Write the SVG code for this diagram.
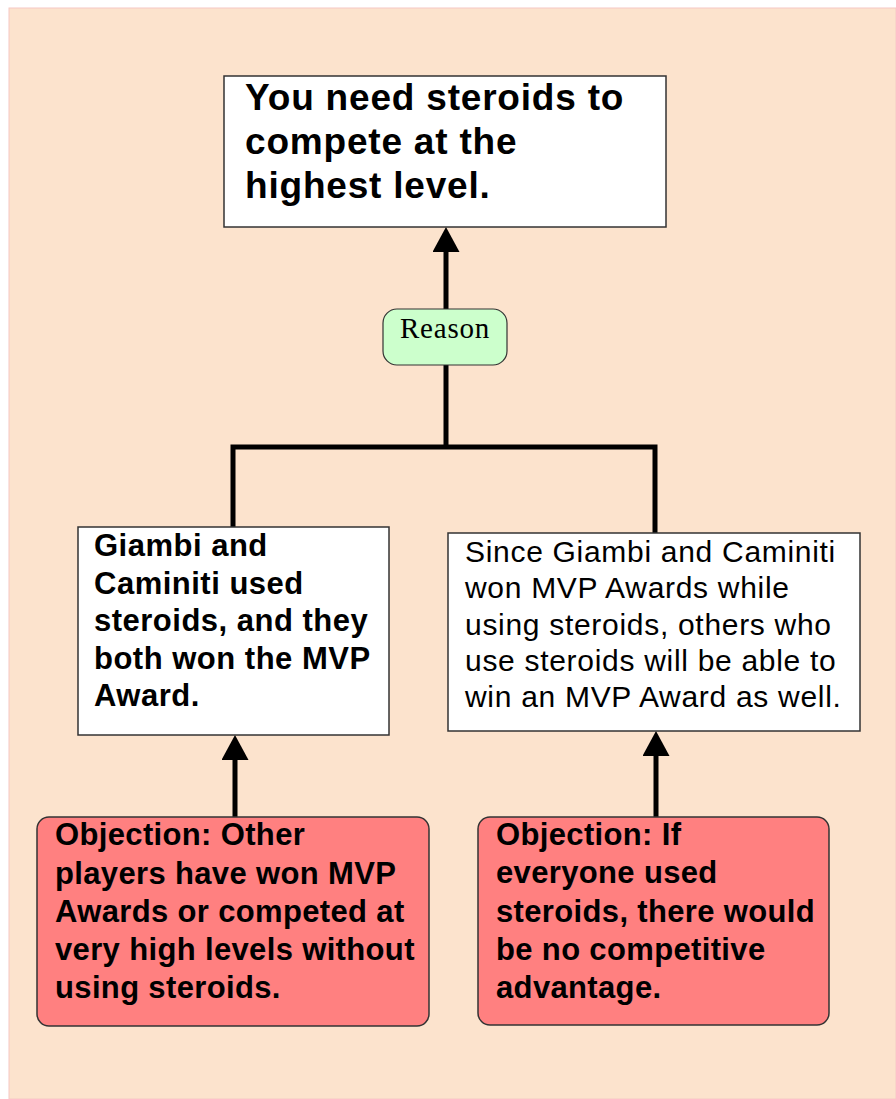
<svg xmlns="http://www.w3.org/2000/svg" width="896" height="1099" viewBox="0 0 896 1099">
  <defs>
    <style>
      .box { fill: #ffffff; stroke: #333333; stroke-width: 1.5; }
      .obj { fill: #ff8080; stroke: #333333; stroke-width: 1.5; }
      .rsn { fill: #ccffcc; stroke: #333333; stroke-width: 1.2; }
      .wire { fill: none; stroke: #000000; stroke-width: 5; }
      .bold { font-family: "Liberation Sans", Arial, sans-serif; font-weight: bold; fill: #000000; }
      .plain { font-family: "Liberation Sans", Arial, sans-serif; fill: #000000; }
      .serif { font-family: "Liberation Serif", "Times New Roman", serif; fill: #000000; }
    </style>
    <marker id="arrow" viewBox="0 0 25 27" markerUnits="userSpaceOnUse" markerWidth="25" markerHeight="27" refX="15" refY="13.5" orient="auto">
      <path d="M0,0 L25,13.5 L0,27 Z" fill="#000000"/>
    </marker>
  </defs>

  <!-- page background -->
  <rect x="0" y="0" width="896" height="1099" fill="#ffffff"/>
  <rect x="9" y="8" width="887" height="1091" fill="#fce3cd" stroke="#f6c8c4" stroke-width="1"/>

  <!-- connectors -->
  <g id="connectors">
    <line class="wire" x1="446" y1="447" x2="446" y2="237" marker-end="url(#arrow)"/>
    <path class="wire" d="M233,527 V447 H655 V533"/>
    <line class="wire" x1="235" y1="817" x2="235" y2="745" marker-end="url(#arrow)"/>
    <line class="wire" x1="656" y1="817" x2="656" y2="741" marker-end="url(#arrow)"/>
  </g>

  <!-- main claim -->
  <g id="claim">
    <rect class="box" x="224" y="76" width="442" height="151"/>
    <text class="bold" font-size="37" letter-spacing="0.8">
      <tspan x="245" y="110">You need steroids to</tspan>
      <tspan x="245" y="154">compete at the</tspan>
      <tspan x="245" y="198">highest level.</tspan>
    </text>
  </g>

  <!-- reason label -->
  <g id="reason">
    <rect class="rsn" x="383" y="309" width="124" height="56" rx="14" ry="14"/>
    <text class="serif" font-size="29" letter-spacing="0.8" x="445" y="338" text-anchor="middle">Reason</text>
  </g>

  <!-- premise 1 -->
  <g id="premise-left">
    <rect class="box" x="78" y="527" width="311" height="208"/>
    <text class="bold" font-size="31" letter-spacing="0.5">
      <tspan x="94" y="556">Giambi and</tspan>
      <tspan x="94" y="593.5">Caminiti used</tspan>
      <tspan x="94" y="631">steroids, and they</tspan>
      <tspan x="94" y="668.5">both won the MVP</tspan>
      <tspan x="94" y="706">Award.</tspan>
    </text>
  </g>

  <!-- premise 2 -->
  <g id="premise-right">
    <rect class="box" x="448" y="533" width="412" height="198"/>
    <text class="plain" font-size="30" letter-spacing="0.7">
      <tspan x="465" y="562">Since Giambi and Caminiti</tspan>
      <tspan x="465" y="598">won MVP Awards while</tspan>
      <tspan x="465" y="635">using steroids, others who</tspan>
      <tspan x="465" y="671">use steroids will be able to</tspan>
      <tspan x="465" y="707">win an MVP Award as well.</tspan>
    </text>
  </g>

  <!-- objection to premise 1 -->
  <g id="objection-left">
    <rect class="obj" x="37" y="817" width="392" height="209" rx="12" ry="12"/>
    <text class="bold" font-size="31" letter-spacing="0.35">
      <tspan x="55" y="845">Objection: Other</tspan>
      <tspan x="55" y="884">players have won MVP</tspan>
      <tspan x="55" y="922">Awards or competed at</tspan>
      <tspan x="55" y="960">very high levels without</tspan>
      <tspan x="55" y="998">using steroids.</tspan>
    </text>
  </g>

  <!-- objection to premise 2 -->
  <g id="objection-right">
    <rect class="obj" x="478" y="817" width="351" height="208" rx="12" ry="12"/>
    <text class="bold" font-size="31" letter-spacing="0.35">
      <tspan x="496" y="845">Objection: If</tspan>
      <tspan x="496" y="883">everyone used</tspan>
      <tspan x="496" y="922">steroids, there would</tspan>
      <tspan x="496" y="960">be no competitive</tspan>
      <tspan x="496" y="998">advantage.</tspan>
    </text>
  </g>
</svg>
